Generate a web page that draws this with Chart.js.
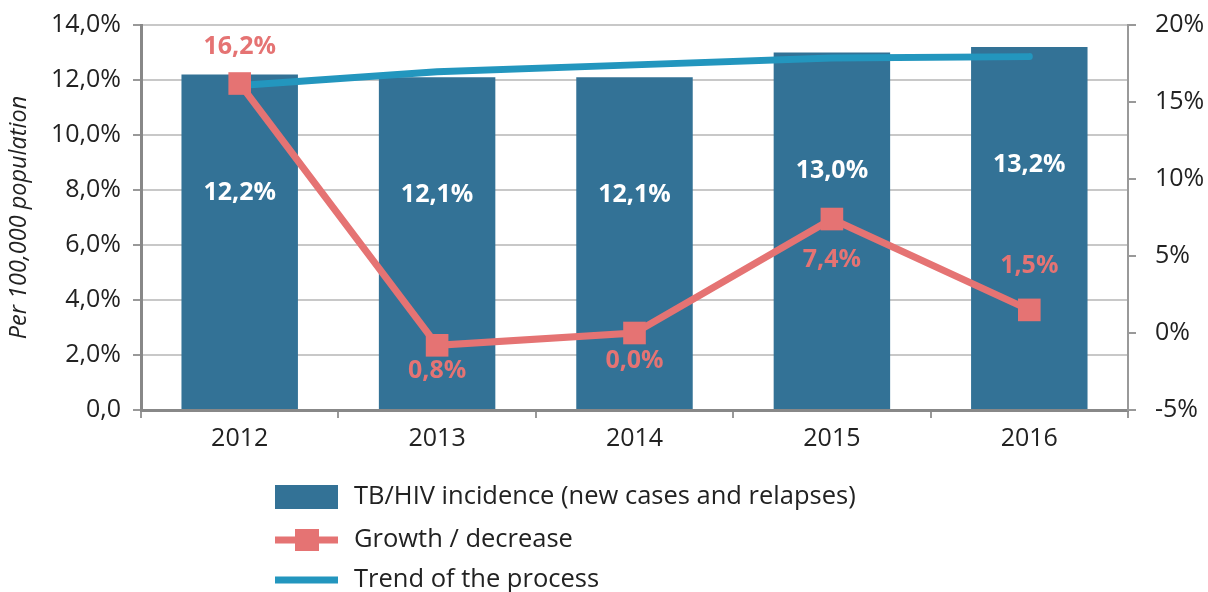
<!DOCTYPE html>
<html>
<head>
<meta charset="utf-8">
<script src="https://cdn.jsdelivr.net/npm/chart.js@4/dist/chart.umd.min.js"></script>
<style>
  body { margin: 0; background: #fff; }
</style>
</head>
<body>
<canvas id="tb-chart" width="1208" height="592"></canvas>
<script>
var years = ['2012', '2013', '2014', '2015', '2016'];
var incidence = [12.2, 12.1, 12.1, 13.0, 13.2];
var growth = [16.2, -0.8, 0.0, 7.4, 1.5];
var trend = [11.8, 12.3, 12.55, 12.8, 12.85];

var barColor = '#337296';
var growthColor = '#e57373';
var trendColor = '#2396be';

Chart.defaults.font.family = 'Open Sans';
Chart.defaults.color = '#222';

function pct(v) {
    return v.toFixed(1).replace('.', ',') + '%';
}

// value labels on bars and growth points
var valueLabels = {
    id: 'valueLabels',
    afterDatasetsDraw: function (chart, args, opts) {
        var ctx = chart.ctx;
        ctx.save();
        ctx.textAlign = 'center';
        ctx.textBaseline = 'middle';
        ctx.font = 'bold 25px "Open Sans"';

        ctx.fillStyle = '#fff';
        chart.getDatasetMeta(0).data.forEach(function (el, i) {
            ctx.fillText(pct(incidence[i]), el.x, el.y + opts.barOffset);
        });

        ctx.fillStyle = growthColor;
        chart.getDatasetMeta(1).data.forEach(function (el, i) {
            // the source prints the size of the change without its sign
            ctx.fillText(pct(Math.abs(growth[i])), el.x, el.y + opts.growthOffsets[i]);
        });
        ctx.restore();
    }
};

// legend stacked under the chart, one item per row
var stackedLegend = {
    id: 'stackedLegend',
    afterDraw: function (chart, args, opts) {
        var ctx = chart.ctx;
        var ds = chart.data.datasets;
        ctx.save();
        ctx.font = '25.5px "Open Sans"';
        ctx.textBaseline = 'middle';
        opts.rows.forEach(function (y, i) {
            var d = ds[i];
            var x = opts.x;
            if (d.type === 'bar') {
                ctx.fillStyle = d.backgroundColor;
                ctx.fillRect(x, y - 12, 63, 24);
            } else {
                ctx.strokeStyle = d.borderColor;
                ctx.lineWidth = 7;
                ctx.beginPath();
                ctx.moveTo(x, y);
                ctx.lineTo(x + 63, y);
                ctx.stroke();
                if (d.pointRadius > 0) {
                    ctx.fillStyle = d.borderColor;
                    ctx.fillRect(x + 20, y - 11, 24, 22);
                }
            }
            ctx.fillStyle = '#222';
            ctx.fillText(d.label, x + 79, y);
        });
        ctx.restore();
    }
};

// fixed axis box; labels may overflow the chart area edges
function pinWidth(w) {
    return function (scale) {
        scale.width = w;
        scale.paddingTop = 0;
        scale.paddingBottom = 0;
    };
}

new Chart(document.getElementById('tb-chart'), {
    data: {
        labels: years,
        datasets: [
            {
                type: 'bar',
                label: 'TB/HIV incidence (new cases and relapses)',
                data: incidence,
                backgroundColor: barColor,
                yAxisID: 'y',
                barPercentage: 0.59,
                categoryPercentage: 1.0,
                order: 3
            },
            {
                type: 'line',
                label: 'Growth / decrease',
                data: growth,
                borderColor: growthColor,
                backgroundColor: growthColor,
                borderWidth: 7,
                pointStyle: 'rect',
                pointRadius: 16,
                pointBorderWidth: 0,
                pointBackgroundColor: growthColor,
                tension: 0,
                yAxisID: 'y2',
                order: 1
            },
            {
                type: 'line',
                label: 'Trend of the process',
                data: trend,
                borderColor: trendColor,
                borderWidth: 7,
                borderCapStyle: 'round',
                borderJoinStyle: 'round',
                pointRadius: 0,
                tension: 0,
                yAxisID: 'y',
                order: 2
            }
        ]
    },
    options: {
        responsive: false,
        animation: false,
        layout: {
            padding: { top: 25, bottom: 132, left: 0, right: 0 }
        },
        plugins: {
            legend: { display: false },
            tooltip: { enabled: false },
            valueLabels: {
                barOffset: 118,
                growthOffsets: [-37, 26, 28, 41, -44]
            },
            stackedLegend: {
                x: 275,
                rows: [497, 540, 580]
            }
        },
        scales: {
            x: {
                grid: {
                    drawOnChartArea: false,
                    tickLength: 8,
                    color: '#999',
                    lineWidth: 2
                },
                border: { color: '#888', width: 3 },
                ticks: { font: { size: 25 }, padding: 6, color: '#222' },
                afterFit: function (scale) { scale.height = 50; }
            },
            y: {
                position: 'left',
                min: 0,
                max: 14,
                ticks: {
                    stepSize: 2,
                    font: { size: 25 },
                    padding: 12,
                    color: '#222',
                    callback: function (v) { return v === 0 ? '0,0' : pct(v); }
                },
                grid: {
                    color: '#c8c8c8',
                    lineWidth: 2,
                    tickLength: 8,
                    tickColor: '#999'
                },
                border: { color: '#888', width: 3 },
                title: {
                    display: true,
                    text: 'Per 100,000 population',
                    font: { size: 23.5, style: 'italic' },
                    color: '#222',
                    padding: { top: 5, bottom: 0 }
                },
                afterFit: pinWidth(141)
            },
            y2: {
                position: 'right',
                min: -5,
                max: 20,
                ticks: {
                    stepSize: 5,
                    font: { size: 25 },
                    padding: 19,
                    color: '#222',
                    callback: function (v) { return v + '%'; }
                },
                grid: {
                    drawOnChartArea: false,
                    tickLength: 8,
                    color: '#999',
                    lineWidth: 2
                },
                border: { color: '#999', width: 2 },
                afterFit: pinWidth(80)
            }
        }
    },
    plugins: [valueLabels, stackedLegend]
});
</script>
</body>
</html>
